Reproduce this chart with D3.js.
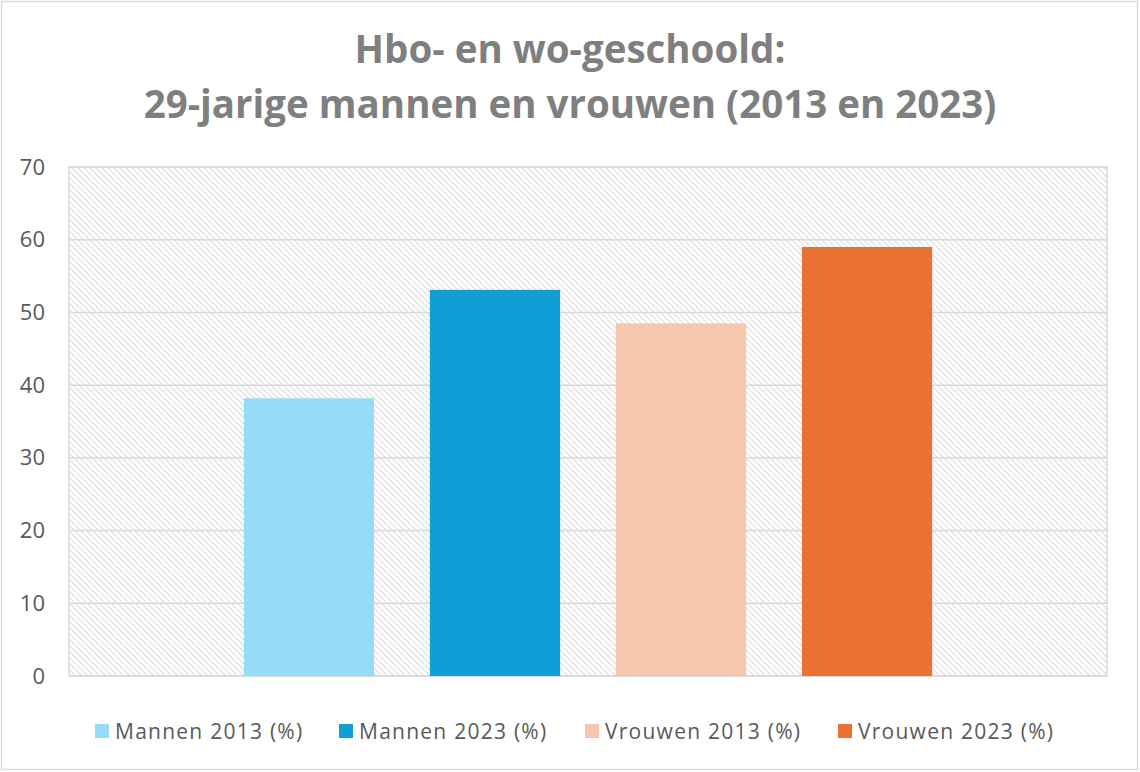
<!DOCTYPE html>
<html>
<head>
<meta charset="utf-8">
<script src="https://cdn.jsdelivr.net/npm/d3@7"></script>
<style>
  html, body { margin: 0; padding: 0; background: #fff; }
  svg { display: block; }
</style>
</head>
<body>
<svg id="chart" width="1140" height="772"></svg>
<script>
const titleLines = ["Hbo- en wo-geschoold:", "29-jarige mannen en vrouwen (2013 en 2023)"];
const seriesNames = ["Mannen 2013 (%)", "Mannen 2023 (%)", "Vrouwen 2013 (%)", "Vrouwen 2023 (%)"];
const seriesValues = [38.2, 53.1, 48.5, 59.0];
const seriesColors = ["#96DCF8", "#0F9ED5", "#F6C6AD", "#E97132"];
const yTicks = [0, 10, 20, 30, 40, 50, 60, 70];

const svg = d3.select("#chart");
const W = 1140, H = 772;
const plot = { left: 69, right: 1107, top: 167, bottom: 676 };

// outer frame
svg.append("rect").attr("x", 1.5).attr("y", 1.5).attr("width", W - 4).attr("height", H - 4)
  .attr("fill", "#fff").attr("stroke", "#D9D9D9").attr("stroke-width", 1.5);

// hatch pattern
const defs = svg.append("defs");
const P = 6;
const pat = defs.append("pattern").attr("id", "hatch").attr("patternUnits", "userSpaceOnUse")
  .attr("width", P).attr("height", P);
pat.append("rect").attr("width", P).attr("height", P).attr("fill", "#fff");
pat.append("path").attr("d", `M0,0 L${P},${P} M-1,${P-1} L1,${P+1} M${P-1},-1 L${P+1},1`)
  .attr("stroke", "#D3D3D3").attr("stroke-width", 1.3).attr("stroke-dasharray", "1.4,0.7");

const y = d3.scaleLinear().domain([0, 70]).range([plot.bottom, plot.top]);
const x = d3.scaleBand().domain(seriesNames).range([plot.left, plot.right])
  .paddingInner(0.30).paddingOuter(0.94);

svg.append("rect").attr("x", plot.left).attr("y", plot.top)
  .attr("width", plot.right - plot.left).attr("height", plot.bottom - plot.top)
  .attr("fill", "url(#hatch)");

// gridlines
svg.append("g").selectAll("line").data(yTicks).join("line")
  .attr("x1", plot.left).attr("x2", plot.right)
  .attr("y1", d => y(d)).attr("y2", d => y(d))
  .attr("stroke", "#D9D9D9").attr("stroke-width", 1.5);

// plot border
svg.append("rect").attr("x", plot.left).attr("y", plot.top)
  .attr("width", plot.right - plot.left).attr("height", plot.bottom - plot.top)
  .attr("fill", "none").attr("stroke", "#D9D9D9").attr("stroke-width", 1.5);

// y axis
const yAxis = d3.axisLeft(y).tickValues(yTicks).tickSize(0).tickPadding(24);
const gy = svg.append("g").attr("transform", `translate(${plot.left},0)`).call(yAxis);
gy.select(".domain").remove();
gy.selectAll("text").attr("fill", "#595959").attr("font-size", 22)
  .attr("font-family", "Open Sans, sans-serif");

// bars
svg.append("g").selectAll("rect").data(seriesNames).join("rect")
  .attr("x", d => x(d)).attr("width", x.bandwidth())
  .attr("y", (d, i) => y(seriesValues[i]))
  .attr("height", (d, i) => y(0) - y(seriesValues[i]))
  .attr("fill", (d, i) => seriesColors[i]);

// title
svg.append("g").selectAll("text").data(titleLines).join("text")
  .attr("x", 570).attr("y", (d, i) => 63 + i * 55)
  .attr("text-anchor", "middle")
  .attr("font-family", "Open Sans, sans-serif").attr("font-weight", 700)
  .attr("font-size", 38.5).attr("fill", "#7F7F7F")
  .text(d => d);

// legend
const legendX = [95, 339, 585, 838];
const lg = svg.append("g").selectAll("g").data(seriesNames).join("g")
  .attr("transform", (d, i) => `translate(${legendX[i]},731)`);
lg.append("rect").attr("x", 0).attr("y", -7).attr("width", 14).attr("height", 14)
  .attr("fill", (d, i) => seriesColors[i]);
lg.append("text").attr("x", 20).attr("y", 8)
  .attr("font-family", "Open Sans, sans-serif").attr("font-size", 21)
  .attr("letter-spacing", 1.25)
  .attr("fill", "#595959").text(d => d);
</script>
</body>
</html>
